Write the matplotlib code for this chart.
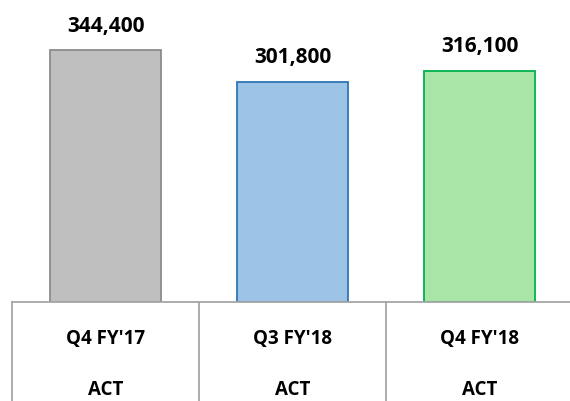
import matplotlib.pyplot as plt
from matplotlib.transforms import blended_transform_factory

periods = ["Q4 FY'17", "Q3 FY'18", "Q4 FY'18"]
kinds = ["ACT", "ACT", "ACT"]
values = [344400, 301800, 316100]
fills = ["#bfbfbf", "#9dc3e6", "#a9e5a6"]
edges = ["#8c8c8c", "#2e75b6", "#00b050"]

plt.rcParams["font.family"] = ["Open Sans", "DejaVu Sans"]

fig = plt.figure(figsize=(5.70, 4.01), dpi=100)
ax = fig.add_axes([12 / 570, 99 / 401, 561 / 570, 302 / 401])

x = range(len(values))
ax.bar(x, values, width=0.59, color=fills, edgecolor=edges, linewidth=1.3)

ax.set_xlim(-0.5, 2.5)
ax.set_ylim(0, 413500)
ax.set_xticks([])
ax.set_yticks([])
for side in ["top", "right", "left"]:
    ax.spines[side].set_visible(False)
ax.spines["bottom"].set_color("#a6a6a6")
ax.spines["bottom"].set_linewidth(1.3)

for i, v in enumerate(values):
    ax.annotate(f"{v:,}", (i, v), xytext=(0, 13.5), textcoords="offset points",
                ha="center", va="baseline", fontsize=15, fontweight="bold")

# table-like category rows below the axis
trans = blended_transform_factory(ax.transData, ax.transAxes)
for edge in [-0.5, 0.5, 1.5]:
    ax.plot([edge, edge], [0, -0.35], transform=trans, color="#a6a6a6",
            linewidth=1.3, clip_on=False)
for i, (p, k) in enumerate(zip(periods, kinds)):
    ax.text(i, -0.139, p, transform=trans, ha="center", va="baseline",
            fontsize=13.5, fontweight="bold")
    ax.text(i, -0.307, k, transform=trans, ha="center", va="baseline",
            fontsize=13.5, fontweight="bold")

fig.savefig("out.png", dpi=100)
